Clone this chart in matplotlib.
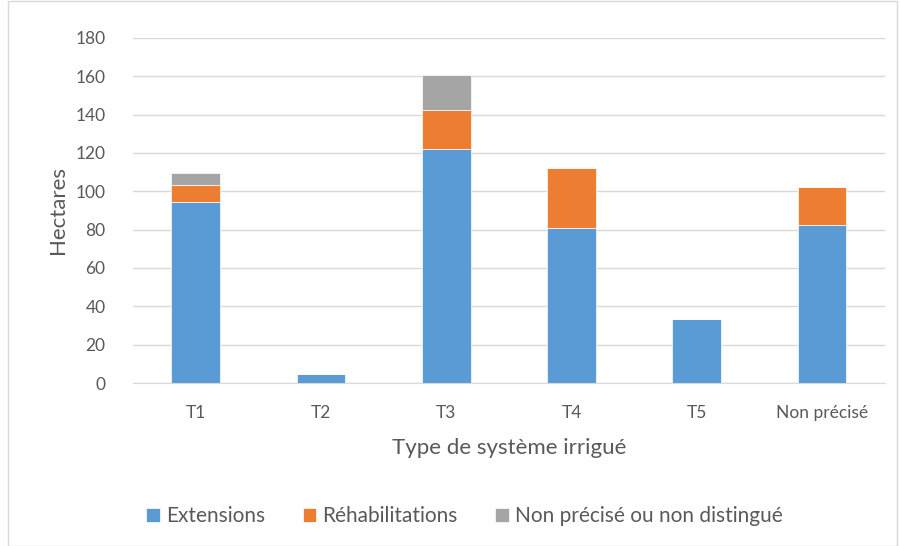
import matplotlib
matplotlib.use("Agg")
import matplotlib.pyplot as plt
import numpy as np

categories = ["T1", "T2", "T3", "T4", "T5", "Non précisé"]
extensions = [94.6, 4.9, 122.1, 80.9, 33.2, 82.4]
rehabilitations = [8.9, 0, 20.3, 31.3, 0, 20.1]
non_precise = [6.3, 0, 18.5, 0, 0, 0]

series = [
    ("Extensions", extensions, "#5b9bd5"),
    ("Réhabilitations", rehabilitations, "#ed7d31"),
    ("Non précisé ou non distingué", non_precise, "#a5a5a5"),
]

plt.rcParams["font.family"] = ["Lato", "DejaVu Sans"]
text_col = "#595959"

fig = plt.figure(figsize=(9, 5.46), dpi=100)
ax = fig.add_axes([0.148, 0.2985, 0.835, 0.632])

x = np.arange(len(categories))
bottom = np.zeros(len(categories))
for label, vals, col in series:
    vals = np.array(vals, dtype=float)
    ax.bar(x, vals, width=0.39, bottom=bottom, color=col, label=label,
           edgecolor="white", linewidth=0.5, zorder=3)
    bottom += vals

ax.set_xlim(-0.5, len(categories) - 0.5)
ax.set_ylim(0, 180)
ax.set_yticks(range(0, 181, 20))
ax.set_xticks(x)
ax.set_xticklabels(categories)
ax.grid(axis="y", color="#d9d9d9", linewidth=1, zorder=0)
ax.tick_params(length=0, labelsize=12.5, colors=text_col)
ax.tick_params(axis="x", pad=16)
ax.tick_params(axis="y", pad=20)
for s in ["top", "right", "left"]:
    ax.spines[s].set_visible(False)
ax.spines["bottom"].set_color("#d9d9d9")

ax.set_xlabel("Type de système irrigué", fontsize=16, color=text_col, labelpad=12)
ax.set_ylabel("Hectares", fontsize=16, color=text_col, labelpad=5)

fig.legend(loc="center", bbox_to_anchor=(0.516, 0.055), ncol=3, frameon=False,
           fontsize=15, labelcolor=text_col, handlelength=0.65, handleheight=0.65,
           columnspacing=1.8, handletextpad=0.3)

border = plt.Rectangle((0.009, 0.0), 0.988, 0.998, transform=fig.transFigure,
                       fill=False, edgecolor="#d9d9d9", linewidth=1)
fig.patches.append(border)

fig.savefig("out.png", dpi=100)
